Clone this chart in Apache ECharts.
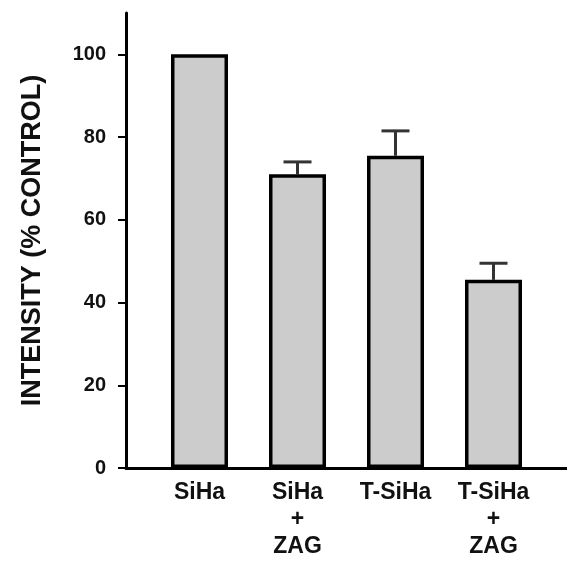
<!DOCTYPE html>
<html>
<head>
<meta charset="utf-8">
<script src="https://cdn.jsdelivr.net/npm/echarts@6/dist/echarts.min.js"></script>
<style>html,body{margin:0;padding:0;background:#fff;}#c{width:567px;height:567px;}</style>
</head>
<body>
<div id="c"></div>
<script>
const categories = ['SiHa', 'SiHa\n+\nZAG', 'T-SiHa', 'T-SiHa\n+\nZAG'];
const positions = [1, 2, 3, 4];
const means = [100, 71, 75.5, 45.5];
const errors = [0, 3, 6, 4];
const yTicks = [0, 20, 40, 60, 80, 100];
const yTitle = 'INTENSITY (% CONTROL)';

const font = 'Liberation Sans, Arial, sans-serif';
const chart = echarts.init(document.getElementById('c'), null, {renderer: 'canvas'});

const barData = positions.map((p, i) => [p, means[i]]);
const errData = positions.map((p, i) => [p, means[i], errors[i]]);

chart.setOption({
  animation: false,
  backgroundColor: '#fff',
  grid: {left: 126, right: 0, top: 13, bottom: 99},
  xAxis: {
    type: 'value',
    min: 0.25,
    max: 4.75,
    splitLine: {show: false},
    axisLine: {show: true, lineStyle: {color: '#000', width: 3}},
    axisTick: {show: false},
    axisLabel: {
      customValues: positions,
      formatter: v => categories[positions.indexOf(Math.round(v))] || '',
      fontFamily: font, fontWeight: 'bold', fontSize: 23, color: '#111',
      lineHeight: 27, margin: 11, align: 'center'
    }
  },
  yAxis: {
    type: 'value',
    min: 0,
    max: 110,
    interval: 20,
    name: yTitle,
    nameLocation: 'middle',
    nameGap: 80,
    nameRotate: 90,
    nameTextStyle: {fontFamily: font, fontWeight: 'bold', fontSize: 27, color: '#111'},
    splitLine: {show: false},
    axisLine: {show: true, lineStyle: {color: '#000', width: 3}},
    axisTick: {show: true, customValues: yTicks, length: 8, lineStyle: {color: '#000', width: 2}},
    axisLabel: {
      customValues: yTicks,
      fontFamily: font, fontWeight: 'bold', fontSize: 20, color: '#111', margin: 20
    }
  },
  series: [
    {
      type: 'custom',
      z: 1,
      data: errData,
      renderItem: (params, api) => {
        const x = api.value(0), m = api.value(1), e = api.value(2);
        if (!e) return null;
        const b = api.coord([x, m]);
        const t = api.coord([x, m + e]);
        const half = 14;
        const st = {stroke: '#333', lineWidth: 3};
        return {
          type: 'group',
          children: [
            {type: 'line', shape: {x1: b[0], y1: b[1], x2: t[0], y2: t[1]}, style: st},
            {type: 'line', shape: {x1: t[0] - half, y1: t[1], x2: t[0] + half, y2: t[1]}, style: st}
          ]
        };
      }
    },
    {
      type: 'bar',
      z: 2,
      data: barData,
      barWidth: 57,
      itemStyle: {color: '#cccccc', borderColor: '#000', borderWidth: 3.5}
    }
  ]
});
</script>
</body>
</html>
